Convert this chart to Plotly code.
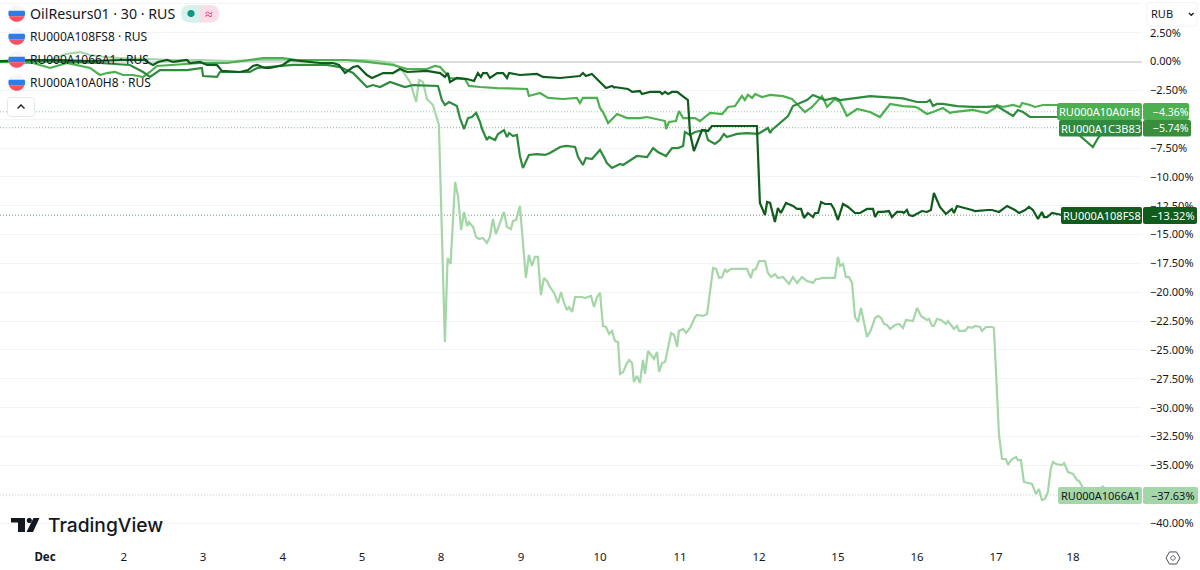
import numpy as np
import plotly.graph_objects as go

# 30 minute bars on the x axis, percent change on the y axis
tick_bars = [15, 41.3, 67.7, 94.3, 120.7, 147, 173.7, 200, 226.7, 253, 279.3, 305.7, 332, 357.7]
tick_days = ['<b>Dec</b>', '2', '3', '4', '5', '8', '9', '10', '11', '12', '15', '16', '17', '18']
y_ticks = [5 - 2.5 * i for i in range(19)]
# the 5%, -5% and -37.5% labels are hidden behind the currency button and the value tags
y_labels = ['', '2.50%', '0.00%'] + [f'\u2212{2.5 * i:.2f}%' for i in range(1, 17)]
y_labels[3 + 1] = ''
y_labels[3 + 14] = ''

bars_066 = [
    0, 5, 11, 15, 18.3, 22, 26.7, 30, 35, 40,
    48.3, 56.7, 66.7, 76.7, 86.7, 100, 113.3, 121.7, 128.3, 131,
    133.3, 135.7, 136.7, 138.7, 139.7, 141, 142.3, 144.3, 146.3, 148.3,
    149.2, 150.2, 151.7, 152.7, 153.7, 154.7, 155.7, 156.3, 157.7, 158.7,
    159.7, 161, 162.3, 163.3, 164.3, 165.3, 168, 169, 170.3, 171,
    172, 173.3, 175.3, 176.3, 177.3, 178.3, 179.3, 180.3, 181.3, 182.3,
    183.3, 184.7, 186, 187, 188, 189, 189.7, 190.7, 191.7, 194,
    195, 197, 198, 199, 200, 201, 202, 203, 204, 205,
    206, 206.7, 207.7, 209, 209.7, 210.7, 211.3, 212.3, 213.3, 214.3,
    215, 216, 217.3, 218, 219, 219.7, 220.7, 221.7, 223.7, 224.7,
    225.7, 226.3, 227.7, 228.7, 230, 231.7, 232.3, 234.3, 235.7, 237,
    237.7, 238.7, 239.7, 240.7, 241.7, 242.3, 243.7, 249, 250.3, 251,
    252, 253, 255, 256, 257, 258.3, 259.3, 261, 263, 264.3,
    265.7, 267.3, 269, 271, 272, 273, 274, 276, 278.3, 279.3,
    280, 281, 282, 283, 284, 285, 286, 287, 289, 290.3,
    291.7, 292.7, 293.7, 294.7, 295.7, 296.7, 298.3, 299.7, 301, 302,
    304.3, 305.7, 307, 308, 309, 309.7, 310.7, 311.3, 312.3, 313.7,
    315.3, 316, 317.3, 318, 319, 319.7, 321.7, 322.7, 324, 325,
    326.7, 327.3, 328.7, 330.7, 331.3, 332.3, 333, 334, 335.3, 336,
    337, 338.7, 339.3, 340.3, 341.3, 344, 345.3, 346.3, 347.3, 348.3,
    349.3, 350.3, 351, 352, 354, 354.7, 356, 357.7, 359, 359.7,
    361, 363.3, 366.7, 367.7, 368.7,
]
pct_066 = [
    0.04, -0.04, -0.13, -0.04, 0.30, 0.65, 0.82, 0.56, 0.39, 0.30,
    0.22, 0.13, 0.13, 0.04, 0.13, 0.13, 0.13, 0.13, -0.04, -0.22,
    -0.48, -1.43, -1.78, -3.51, -1.60, -1.78, -3.25, -3.77, -5.50, -24.31,
    -17.03, -17.55, -10.44, -11.74, -14.60, -13.04, -14.26, -13.91, -14.34, -15.21,
    -15.38, -15.30, -15.73, -15.21, -13.65, -14.95, -13.04, -14.34, -14.52, -13.82,
    -13.74, -12.52, -18.76, -16.77, -17.72, -16.94, -16.94, -20.24, -18.76, -19.02,
    -19.54, -20.06, -20.93, -19.98, -20.93, -21.54, -21.28, -21.71, -20.41, -20.41,
    -20.50, -20.32, -21.28, -20.41, -20.06, -22.92, -23.01, -23.61, -23.35, -24.22,
    -24.31, -27.08, -26.91, -26.13, -25.87, -26.13, -27.78, -27.25, -27.86, -25.87,
    -27.08, -25.09, -25.61, -25.78, -25.17, -26.91, -26.13, -26.04, -23.53, -23.70,
    -24.74, -23.35, -23.18, -23.53, -23.09, -22.14, -21.97, -22.05, -21.88, -19.11,
    -17.90, -17.98, -18.76, -18.68, -17.98, -18.24, -17.98, -17.98, -18.76, -18.07,
    -17.98, -17.29, -17.29, -18.33, -18.68, -18.42, -18.76, -18.68, -19.28, -18.68,
    -19.19, -18.68, -19.02, -19.19, -18.85, -18.85, -18.76, -18.76, -18.76, -16.94,
    -17.72, -17.55, -18.68, -18.68, -19.19, -22.14, -22.58, -21.36, -23.88, -23.27,
    -22.23, -22.05, -22.23, -22.75, -22.84, -23.18, -22.84, -22.75, -23.09, -22.40,
    -22.49, -21.36, -22.05, -22.23, -22.40, -22.31, -22.92, -22.92, -22.31, -22.40,
    -22.75, -22.49, -23.01, -23.18, -22.92, -23.35, -23.35, -23.01, -23.09, -22.92,
    -23.01, -23.35, -23.01, -23.01, -23.09, -29.33, -32.37, -34.45, -34.45, -34.97,
    -34.54, -34.27, -34.54, -34.54, -36.44, -36.61, -37.48, -37.05, -38.00, -37.91,
    -37.31, -35.23, -34.71, -34.88, -34.97, -34.80, -35.58, -35.75, -36.27, -36.35,
    -36.96, -37.13, -37.13, -36.79, -37.63,
]

bars_0h8 = [
    0, 11, 16.7, 22.3, 30, 33.3, 35.7, 38.3, 41, 44.3,
    47.7, 50, 52.3, 66.7, 75.7, 86.7, 87.7, 94.3, 99, 112.3,
    115.7, 122.3, 127.7, 131, 133.3, 135.7, 142.3, 145, 146.7, 148.3,
    150, 155, 156.3, 160, 165.7, 175.7, 176.3, 180, 182.7, 187.7,
    192.3, 193.3, 194.3, 199, 200, 201, 202.7, 205.7, 209, 213.3,
    215.7, 221.7, 222, 223, 225.3, 226.3, 227.7, 231.7, 233.3, 236.7,
    240.7, 242.7, 245, 247.3, 248.3, 249.3, 250.7, 251.7, 254, 256.7,
    261, 264, 266.7, 268.3, 270.7, 274, 275.7, 278.3, 280, 282.3,
    285.7, 290, 293.3, 296.7, 301, 305, 306, 309, 311, 314.3,
    316.7, 317.7, 324.3, 329, 331.7, 332.3, 334.3, 337.7, 340, 340.7,
    343.3, 345, 347.7, 352.3, 363, 368.7,
]
pct_0h8 = [
    -0.04, -0.13, -0.56, -0.13, -0.56, -1.17, -1.00, -0.91, -1.17, -1.17,
    -1.34, -0.91, -0.39, -0.13, -0.13, 0.30, 0.30, 0.30, 0.13, 0.13,
    0.13, -0.04, -0.22, -0.30, -0.48, -0.65, -0.65, -0.39, -0.48, -0.91,
    -1.43, -1.52, -2.12, -2.21, -2.30, -2.38, -2.99, -2.73, -3.16, -3.25,
    -3.16, -3.60, -3.16, -3.16, -4.03, -4.38, -5.33, -4.55, -4.90, -4.90,
    -4.81, -5.16, -5.85, -5.24, -5.16, -4.29, -4.90, -4.90, -5.16, -4.46,
    -4.55, -3.94, -3.86, -2.99, -3.34, -2.90, -3.16, -2.82, -3.08, -2.90,
    -3.00, -3.25, -3.92, -4.38, -3.94, -3.00, -3.94, -3.25, -3.51, -4.72,
    -4.12, -4.38, -4.81, -3.68, -3.86, -3.94, -4.03, -4.55, -4.38, -4.03,
    -4.46, -4.38, -4.20, -4.46, -4.03, -3.77, -3.94, -3.77, -3.94, -3.60,
    -3.77, -3.94, -3.77, -3.77, -3.77, -4.36,
]

bars_b83 = [
    0, 11, 22, 33.3, 43.3, 47.7, 50, 53.3, 62.3, 67.3,
    67.7, 72.3, 73.3, 83.3, 85.7, 97.7, 109, 113.3, 117.7, 122.3,
    124.3, 126.7, 130, 133.3, 135, 137.7, 146, 147.3, 148.3, 149.7,
    152.3, 153.3, 154.7, 156, 157.3, 158.7, 160, 160.7, 162.3, 163,
    165, 166, 168, 169, 169.7, 171, 172.3, 173.3, 174.3, 176.3,
    179, 181.7, 183.3, 186.7, 188.7, 191.7, 192.7, 194.3, 195.3, 197.3,
    200, 201.3, 202.3, 204, 206.7, 207.7, 212.3, 215.7, 217.7, 219.3,
    222, 224, 226, 227.7, 228.3, 230, 231.7, 233.3, 235, 236,
    238.3, 240, 241.3, 242.3, 245.7, 249, 252.7, 256, 256.7, 257.3,
    260, 262.7, 264.3, 269, 271, 273.3, 275, 278.3, 280, 285.7,
    290, 301, 305.7, 309, 310, 311, 312.3, 314.3, 319, 324.3,
    329, 332.3, 337.7, 339.3, 341, 343.3, 346, 352.7, 364.3, 366,
    368.7,
]
pct_b83 = [
    0.04, 0.04, -0.04, -0.13, -0.30, -0.91, -1.34, -0.74, -0.74, -0.56,
    -1.26, -1.34, -0.91, -0.91, -0.56, -0.30, -0.30, -0.48, -1.00, -2.21,
    -2.04, -2.21, -1.78, -2.04, -2.21, -2.04, -2.12, -3.34, -3.77, -3.51,
    -3.86, -4.90, -5.85, -4.90, -4.81, -4.46, -5.24, -5.85, -6.80, -6.54,
    -6.80, -6.28, -5.94, -6.54, -6.20, -6.46, -6.37, -8.19, -9.23, -8.10,
    -8.02, -8.10, -7.93, -7.41, -7.32, -7.41, -8.28, -8.97, -8.36, -8.45,
    -7.67, -8.28, -8.80, -9.23, -8.88, -8.97, -8.19, -8.28, -7.50, -7.84,
    -8.19, -7.50, -7.50, -7.32, -6.11, -6.37, -6.11, -6.02, -5.94, -6.80,
    -7.15, -6.80, -6.28, -6.54, -6.28, -6.20, -6.28, -5.76, -6.20, -5.94,
    -5.33, -4.72, -3.86, -3.34, -2.90, -3.16, -3.34, -3.16, -3.34, -3.16,
    -3.00, -3.20, -3.51, -3.51, -3.34, -3.86, -3.68, -3.68, -3.86, -3.94,
    -3.94, -3.86, -4.72, -4.20, -4.38, -4.81, -4.81, -4.81, -7.41, -6.63,
    -5.74,
]

bars_fs8 = [
    0, 10, 20, 30, 40, 48.3, 49, 51, 52.7, 55.7,
    57.7, 62.3, 63.3, 66.7, 69, 71, 72.3, 74, 80, 82.7,
    84.3, 85.7, 88.3, 90, 94.3, 96.7, 106.7, 111, 113, 115,
    117.7, 119.3, 122.3, 124, 127.7, 131, 133.3, 135.7, 142.3, 146.7,
    148.3, 149.3, 150, 152.3, 155.7, 158, 159.3, 160.3, 161, 162.3,
    163.3, 165.7, 167.7, 169, 169.7, 173.3, 179, 181, 186.7, 193.3,
    194.3, 195.3, 197.3, 198.3, 202, 204, 205, 204.7, 209.3, 210.7,
    213.3, 214, 216.7, 220, 220.7, 221.7, 222.7, 224, 225.7, 227.7,
    229.3, 230, 231.3, 234, 236, 237.3, 240, 244.3, 252.3, 253,
    253.3, 255, 255.7, 256.7, 258.3, 259.3, 260.3, 262, 264.3, 265.7,
    267, 268, 269.3, 271, 271.7, 272.7, 273.7, 275, 277, 278,
    279.3, 281, 282.7, 285, 286.7, 289, 291, 291.7, 292.7, 294.3,
    296.3, 297.3, 299, 300.7, 301.3, 302.3, 303, 304.3, 306, 307.3,
    309, 310.3, 311.3, 313.3, 315.3, 317.3, 318, 319, 324, 325,
    329.3, 330.7, 333, 335.7, 338.3, 339.7, 341.7, 343, 344.3, 346,
    347.3, 348, 349, 350.7, 354, 366.7, 368.7,
]
pct_fs8 = [
    0.04, 0.13, 0.13, 0.04, 0.13, 0.13, -0.04, -0.30, -0.04, 0.13,
    -0.04, 0.13, -0.13, -0.04, -0.30, -0.30, -0.30, -0.82, -0.91, -0.74,
    -0.39, -0.30, -0.56, -0.56, -0.30, 0.13, -0.13, -0.13, -0.30, -1.00,
    -0.48, -0.39, -1.17, -1.43, -1.00, -1.00, -0.65, -0.91, -0.82, -1.00,
    -1.34, -1.00, -1.78, -1.43, -1.52, -1.69, -1.00, -1.34, -1.00, -1.00,
    -1.43, -1.00, -1.00, -1.43, -1.00, -1.17, -1.08, -1.34, -1.43, -1.26,
    -1.00, -1.26, -1.08, -1.34, -2.30, -2.12, -2.30, -2.21, -2.38, -2.64,
    -2.56, -2.82, -2.64, -2.64, -2.82, -2.64, -2.82, -2.64, -2.64, -2.99,
    -3.34, -6.20, -7.76, -5.94, -6.02, -5.59, -5.59, -5.59, -5.59, -10.27,
    -12.26, -13.30, -12.18, -12.26, -13.91, -12.70, -13.13, -12.26, -12.52, -12.78,
    -12.78, -13.56, -13.13, -13.48, -13.13, -13.13, -12.18, -12.35, -12.35, -12.78,
    -13.74, -12.35, -12.61, -13.13, -13.13, -12.78, -12.78, -13.48, -13.04, -13.04,
    -12.96, -13.48, -13.04, -13.04, -13.13, -12.87, -13.30, -13.39, -13.13, -12.96,
    -13.04, -12.87, -11.40, -12.61, -13.22, -12.78, -13.13, -12.52, -12.87, -12.96,
    -12.87, -12.87, -13.04, -12.52, -12.87, -13.13, -12.87, -12.61, -12.87, -13.65,
    -13.04, -13.48, -13.48, -13.13, -13.30, -13.39, -13.32,
]

series_names = ['RU000A1066A1', 'RU000A10A0H8', 'RU000A1C3B83', 'RU000A108FS8']
series_colors = ['#a5d6a7', '#4caf50', '#2e8b3d', '#0f5c1d']
last_values = [-37.63, -4.36, -5.74, -13.32]
last_labels = ['\u221237.63%', '\u22124.36%', '\u22125.74%', '\u221213.32%']
legend_rows = ['RU000A108FS8 \u00b7 RUS', 'RU000A1066A1 \u00b7 RUS', 'RU000A10A0H8 \u00b7 RUS']

PLOT_W = 1142
PLOT_H = 540
FONT = 'Noto Sans'
TEXT = '#131722'


def fx(px):
    return px / PLOT_W


def fy(py):
    return 1 - py / PLOT_H


def poly_path(points):
    return 'M' + ' L'.join(f'{fx(a):.5f},{fy(b):.5f}' for a, b in points) + ' Z'


def circle_path(cx, cy, r, start=0, stop=360):
    ang = np.radians(np.linspace(start, stop, 49))
    return poly_path(list(zip(cx + r * np.cos(ang), cy + r * np.sin(ang))))


def round_rect_path(x0, y0, x1, y1, r):
    return (
        f'M{fx(x0 + r):.5f},{fy(y0):.5f} L{fx(x1 - r):.5f},{fy(y0):.5f} '
        f'Q{fx(x1):.5f},{fy(y0):.5f} {fx(x1):.5f},{fy(y0 + r):.5f} '
        f'L{fx(x1):.5f},{fy(y1 - r):.5f} Q{fx(x1):.5f},{fy(y1):.5f} {fx(x1 - r):.5f},{fy(y1):.5f} '
        f'L{fx(x0 + r):.5f},{fy(y1):.5f} Q{fx(x0):.5f},{fy(y1):.5f} {fx(x0):.5f},{fy(y1 - r):.5f} '
        f'L{fx(x0):.5f},{fy(y0 + r):.5f} Q{fx(x0):.5f},{fy(y0):.5f} {fx(x0 + r):.5f},{fy(y0):.5f} Z'
    )


def add_path(fig, path, fill=None, line=None, width=0):
    fig.add_shape(type='path', path=path, xref='paper', yref='paper', layer='above',
                  fillcolor=fill or 'rgba(0,0,0,0)',
                  line=dict(color=line or 'rgba(0,0,0,0)', width=width))


def add_text(fig, px, py, text, size=12, color=TEXT, anchor='left', family=FONT, weight=None):
    fig.add_annotation(x=fx(px), y=fy(py), xref='paper', yref='paper', text=text, showarrow=False,
                       xanchor=anchor, yanchor='middle', align=anchor, borderpad=0,
                       font=dict(family=family, size=size, color=color, weight=weight))


def add_flag(fig, cx, cy, r=8.3):
    # three horizontal bands cut from a circle
    chord = np.degrees(np.arcsin(1 / 3))
    add_path(fig, circle_path(cx, cy, r), fill='#f5f6fb')
    add_path(fig, poly_path(
        list(zip(cx + r * np.cos(np.radians(np.linspace(-chord, chord, 9))),
                 cy + r * np.sin(np.radians(np.linspace(-chord, chord, 9))))) +
        list(zip(cx + r * np.cos(np.radians(np.linspace(180 - chord, 180 + chord, 9))),
                 cy + r * np.sin(np.radians(np.linspace(180 - chord, 180 + chord, 9)))))
    ), fill='#2e7bea')
    add_path(fig, circle_path(cx, cy, r, chord, 180 - chord), fill='#f7525f')


fig = go.Figure()
all_bars = [bars_066, bars_0h8, bars_b83, bars_fs8]
all_pct = [pct_066, pct_0h8, pct_b83, pct_fs8]
for name, color, bars, pct in zip(series_names, series_colors, all_bars, all_pct):
    fig.add_trace(go.Scatter(x=bars, y=pct, mode='lines', name=name,
                             line=dict(color=color, width=2.2), hoverinfo='skip'))

# dotted price lines behind the last values
for value, color in zip(last_values, series_colors):
    fig.add_shape(type='line', xref='paper', x0=0, x1=1, yref='y', y0=value, y1=value, layer='below',
                  opacity=0.6, line=dict(color=color, width=1, dash='1px,2px'))

# last value tags on the price scale
tag_boxes = [(1058, 487, 504, 1198), (1057, 103, 120, 1189), (1059, 120, 136.5, 1191), (1061, 207, 224, 1197)]
tag_value_colors = ['#a5d6a7', '#4caf50', '#388e3c', '#0f5c1d']
tag_text_colors = [TEXT, 'white', 'white', 'white']
tag_value_size = [11, 10.5, 10.5, 11]
tag_value_mid = [1172.5, 1170.5, 1171, 1172.5]
for i in [0, 1, 2, 3]:
    x0, y0, y1, x2 = tag_boxes[i]
    add_path(fig, round_rect_path(x0, y0, 1142, y1, 2), fill=series_colors[i])
    add_path(fig, round_rect_path(1143, y0, x2, y1, 2), fill=tag_value_colors[i])
    add_text(fig, (x0 + 1142) / 2, (y0 + y1) / 2, series_names[i], size=11, color=tag_text_colors[i], anchor='center')
    add_text(fig, tag_value_mid[i], (y0 + y1) / 2, last_labels[i], size=tag_value_size[i], color=tag_text_colors[i], anchor='center')

# legend block
add_flag(fig, 16.7, 13.5)
add_text(fig, 29, 13.5, 'OilResurs01 \u00b7 30 \u00b7 RUS', size=14.2)
for row, py in zip(legend_rows, [36.5, 59.5, 82.5]):
    add_flag(fig, 16.7, py)
    add_text(fig, 29, py, row, size=12)

# market status pill
add_path(fig, round_rect_path(181, 5, 209, 22.5, 8.5), fill='#d9f1ec')
add_path(fig, round_rect_path(192, 5, 219, 22.5, 8.5), fill='#fbdde8')
add_path(fig, poly_path([(190, 5), (200, 5), (200, 22.5), (190, 22.5)]), fill='#d9f1ec')
add_path(fig, circle_path(191, 13.5, 3.6), fill='#089981')
add_text(fig, 208.5, 13.5, '\u2248', size=14, color='#e91e63', anchor='center')

# collapse button
add_path(fig, round_rect_path(7.5, 97.5, 34.5, 116.5, 3), fill='white', line='#e6e8ee', width=1)
add_path(fig, 'M' + ' L'.join(f'{fx(a):.5f},{fy(b):.5f}' for a, b in [(17.5, 108.5), (21, 105), (24.5, 108.5)]),
         line=TEXT, width=1.3)

# currency button sits over the top of the price scale
add_path(fig, round_rect_path(1147, 2.5, 1197, 26, 3), fill='white', line='#f0f3fa', width=1)
add_text(fig, 1150, 14, 'RUB', size=11)
add_path(fig, 'M' + ' L'.join(f'{fx(a):.5f},{fy(b):.5f}' for a, b in [(1189, 13), (1191.3, 15.3), (1193.6, 13)]),
         line=TEXT, width=1.2)

# logo
add_path(fig, poly_path([(11, 518), (25, 518), (25, 532), (18, 532), (18, 522.5), (11, 522.5)]), fill='#131722')
add_path(fig, circle_path(29.3, 520.5, 2.6), fill='#131722')
add_path(fig, poly_path([(33.5, 518), (39.5, 518), (33, 532), (26.5, 532)]), fill='#131722')
add_text(fig, 47, 525, 'TradingView', size=19.2, family='Inter', weight=500)

# settings icon
hex_ang = np.radians(np.arange(0, 360, 60))
add_path(fig, poly_path(list(zip(1173 + 7 * np.cos(hex_ang), 558 + 7 * np.sin(hex_ang)))), line='#4a4e59', width=1)
add_path(fig, circle_path(1173, 558, 2.2), line='#4a4e59', width=1)

fig.update_layout(
    width=1200,
    height=570,
    autosize=False,
    margin=dict(l=0, r=58, t=0, b=30),
    paper_bgcolor='white',
    plot_bgcolor='white',
    showlegend=False,
    font=dict(family=FONT, size=12, color=TEXT),
)
fig.update_xaxes(
    range=[0, PLOT_W / 3],
    tickmode='array',
    tickvals=tick_bars,
    ticktext=tick_days,
    showgrid=False,
    zeroline=False,
    showline=False,
    automargin=False,
    ticks='',
    tickangle=0,
    ticklabelstandoff=8,
    tickfont=dict(size=11.5, color=TEXT),
)
fig.update_yaxes(
    side='right',
    range=[-41.47, 5.33],
    tickmode='array',
    tickvals=y_ticks,
    ticktext=y_labels,
    gridcolor='#f3f4f6',
    gridwidth=1,
    zeroline=True,
    zerolinecolor='#dcdde0',
    zerolinewidth=2,
    showline=False,
    automargin=False,
    ticks='',
    ticklabelstandoff=7,
    tickfont=dict(size=11, color=TEXT),
)

# plotly's page keeps the browser's default body margin, drop it so the chart fills the window
fig.write_html('out.html', post_script="document.body.style.margin='0'",
               config=dict(displayModeBar=False))
